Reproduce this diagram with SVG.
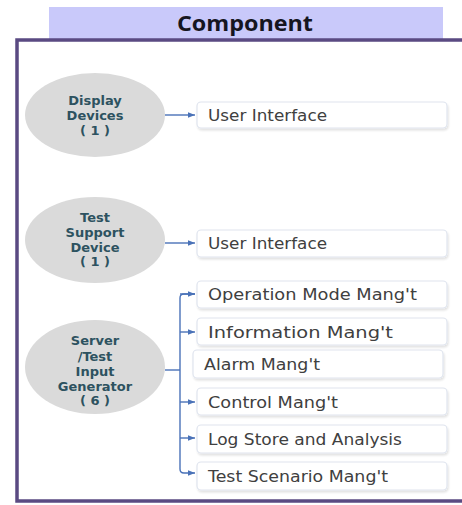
<svg xmlns="http://www.w3.org/2000/svg" width="462" height="505" viewBox="0 0 462 505">
<defs>
<marker id="ah" viewBox="0 0 10 10" refX="10" refY="5" markerWidth="7" markerHeight="7" markerUnits="userSpaceOnUse" orient="auto">
<path d="M0,1 L10,5 L0,9 Z" fill="#4a72b8"/>
</marker>
<filter id="sh" x="-5%" y="-20%" width="110%" height="150%">
<feGaussianBlur in="SourceAlpha" stdDeviation="1.2"/>
<feOffset dx="1" dy="1.5"/>
<feComponentTransfer><feFuncA type="linear" slope="0.12"/></feComponentTransfer>
<feMerge><feMergeNode/><feMergeNode in="SourceGraphic"/></feMerge>
</filter>
</defs>
<style>
.head{fill:#c9c9fa}
.htxt{font-family:"Open Sans","Noto Sans",sans-serif;font-weight:bold;font-size:21px;fill:#151520;text-anchor:middle}
.frame{fill:#ffffff;stroke:#5a4a82;stroke-width:3.5}
.ell{fill:#dadada}
.etxt{font-family:"DejaVu Sans","Open Sans",sans-serif;font-weight:bold;font-size:13px;fill:#2d5260;text-anchor:middle}
.box{fill:#ffffff;stroke:#dfe4ee;stroke-width:1.2}
.btxt{font-family:"DejaVu Sans","Noto Sans",sans-serif;font-size:15.5px;fill:#404040}
.con{fill:none;stroke:#4a72b8;stroke-width:1.4}
</style>
<rect class="head" x="49" y="7" width="394" height="33"/>
<text class="htxt" x="245" y="31" textLength="136" lengthAdjust="spacingAndGlyphs">Component</text>
<rect class="frame" x="17" y="40" width="460" height="461"/>

<g id="connectors">
<line class="con" x1="165" y1="115" x2="195" y2="115" marker-end="url(#ah)"/>
<line class="con" x1="165" y1="243" x2="195" y2="243" marker-end="url(#ah)"/>
<line class="con" x1="165" y1="370" x2="180" y2="370"/>
<path class="con" d="M195,294 H184 Q180,294 180,298 V469 Q180,473 184,473 H195" marker-end="url(#ah)"/>
<path class="con" d="M180,294 H195" marker-end="url(#ah)"/>
<line class="con" x1="180" y1="332" x2="195" y2="332" marker-end="url(#ah)"/>
<line class="con" x1="180" y1="402" x2="195" y2="402" marker-end="url(#ah)"/>
<line class="con" x1="180" y1="438" x2="195" y2="438" marker-end="url(#ah)"/>
</g>

<g id="display-devices">
<ellipse class="ell" cx="95" cy="115" rx="70" ry="42"/>
<text class="etxt" x="95" y="105">Display</text>
<text class="etxt" x="95" y="120">Devices</text>
<text class="etxt" x="95" y="135">( 1 )</text>
</g>
<g id="test-support-device">
<ellipse class="ell" cx="95" cy="240" rx="70" ry="43"/>
<text class="etxt" x="95" y="222">Test</text>
<text class="etxt" x="95" y="237">Support</text>
<text class="etxt" x="95" y="252">Device</text>
<text class="etxt" x="95" y="266">( 1 )</text>
</g>
<g id="server">
<ellipse class="ell" cx="95" cy="367" rx="70" ry="47"/>
<text class="etxt" x="95" y="345">Server</text>
<text class="etxt" x="95" y="361">/Test</text>
<text class="etxt" x="95" y="376">Input</text>
<text class="etxt" x="95" y="391">Generator</text>
<text class="etxt" x="95" y="405">( 6 )</text>
</g>

<g id="ui1"><rect class="box" x="197" y="102" width="250" height="26" rx="4" filter="url(#sh)"/><text class="btxt" x="208" y="121" textLength="119" lengthAdjust="spacingAndGlyphs">User Interface</text></g>
<g id="ui2"><rect class="box" x="197" y="230" width="250" height="27" rx="4" filter="url(#sh)"/><text class="btxt" x="208" y="249" textLength="119" lengthAdjust="spacingAndGlyphs">User Interface</text></g>
<g id="opmode"><rect class="box" x="197" y="281" width="250" height="27" rx="4" filter="url(#sh)"/><text class="btxt" x="208" y="300" textLength="209" lengthAdjust="spacingAndGlyphs">Operation Mode Mang't</text></g>
<g id="info"><rect class="box" x="197" y="318" width="250" height="27" rx="4" filter="url(#sh)"/><text class="btxt" x="208" y="338" textLength="185" lengthAdjust="spacingAndGlyphs">Information Mang't</text></g>
<g id="alarm"><rect class="box" x="193" y="350" width="250" height="28" rx="4" filter="url(#sh)"/><text class="btxt" x="204" y="370" textLength="116" lengthAdjust="spacingAndGlyphs">Alarm Mang't</text></g>
<g id="control"><rect class="box" x="197" y="388" width="250" height="27" rx="4" filter="url(#sh)"/><text class="btxt" x="208" y="408" textLength="130" lengthAdjust="spacingAndGlyphs">Control Mang't</text></g>
<g id="log"><rect class="box" x="197" y="425" width="250" height="28" rx="4" filter="url(#sh)"/><text class="btxt" x="208" y="445" textLength="194" lengthAdjust="spacingAndGlyphs">Log Store and Analysis</text></g>
<g id="scenario"><rect class="box" x="197" y="462" width="250" height="28" rx="4" filter="url(#sh)"/><text class="btxt" x="208" y="482" textLength="180" lengthAdjust="spacingAndGlyphs">Test Scenario Mang't</text></g>
</svg>
